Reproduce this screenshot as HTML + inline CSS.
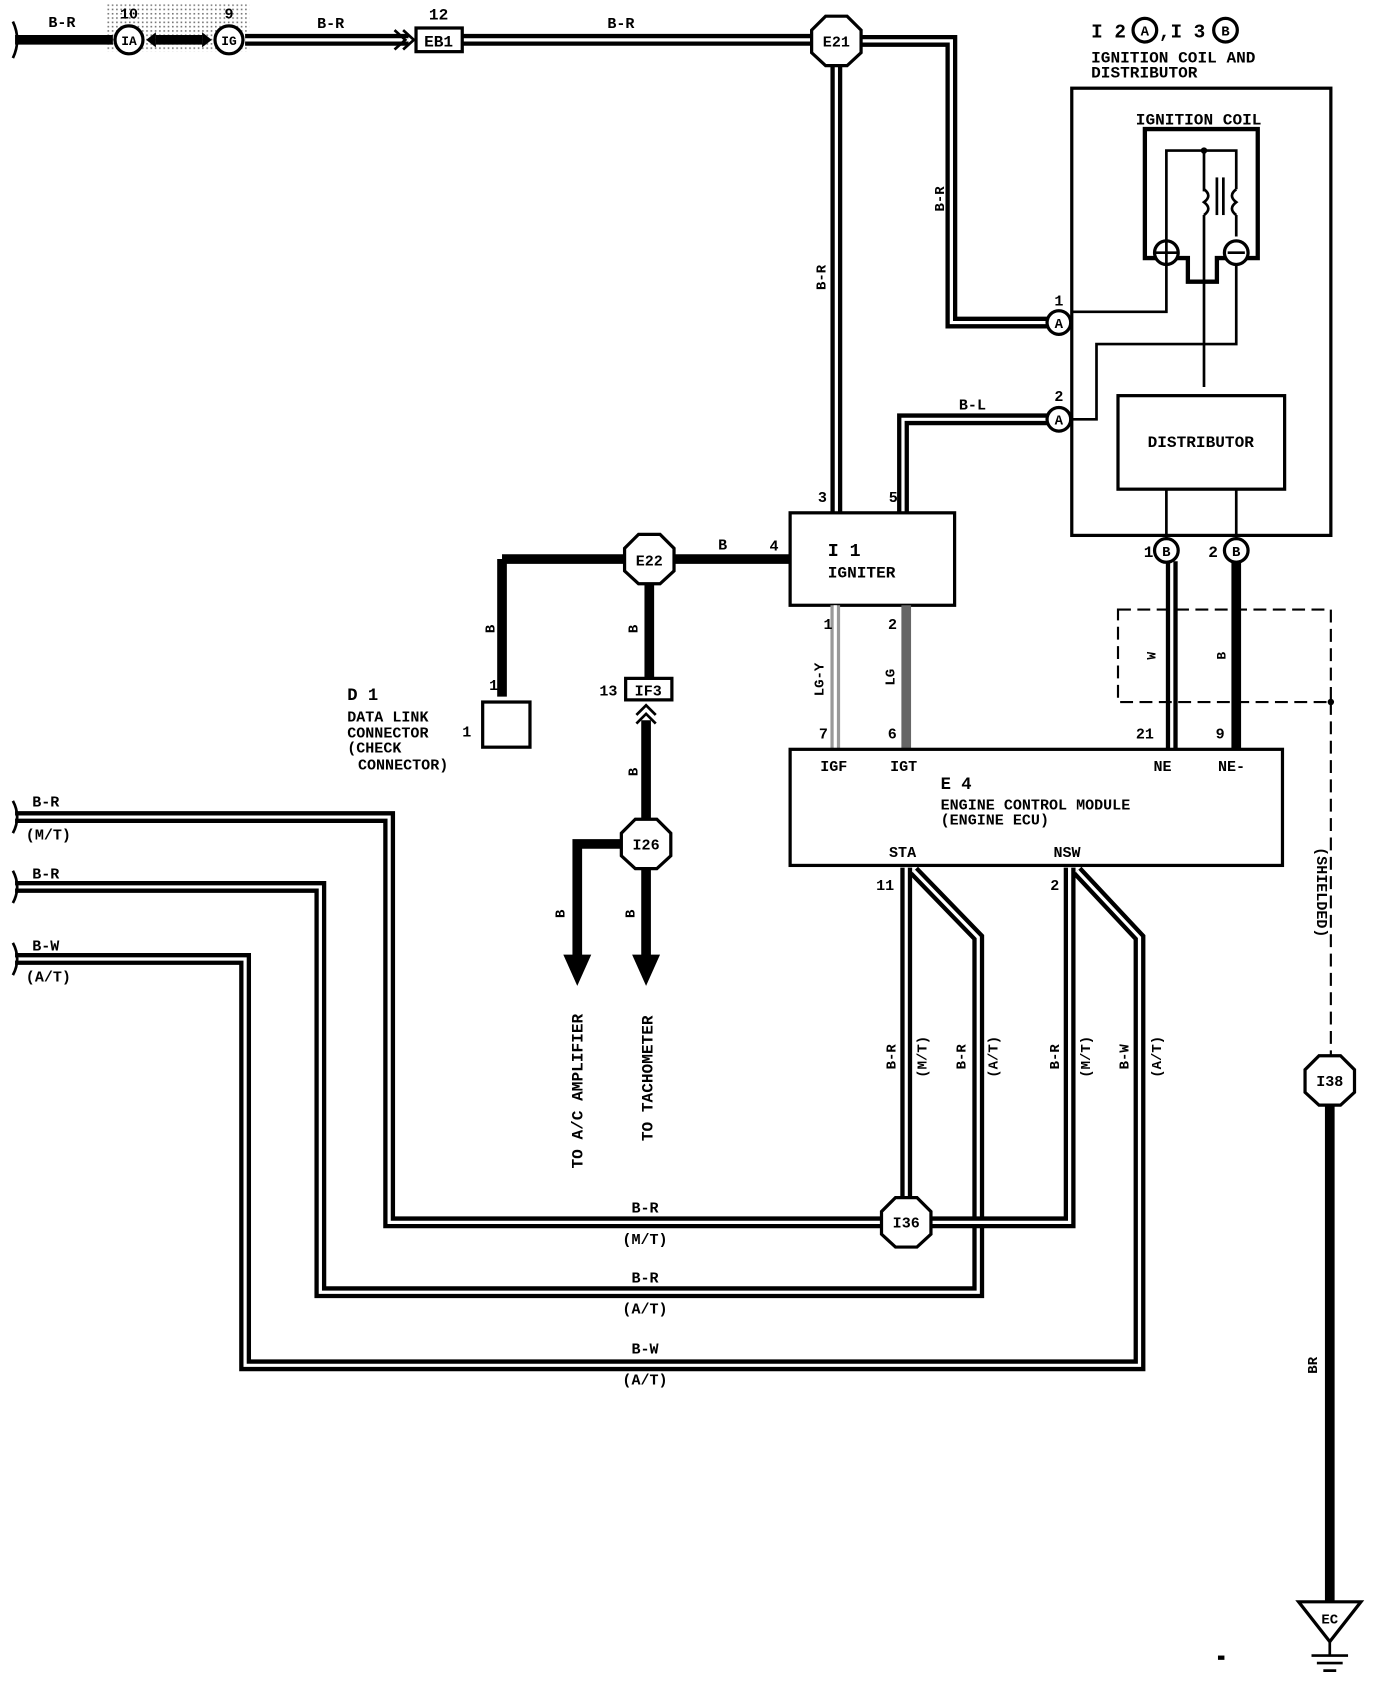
<!DOCTYPE html>
<html><head><meta charset="utf-8"><style>
html,body{margin:0;padding:0;background:#fff}
svg{display:block}
text{font-family:"Liberation Mono",monospace;font-weight:bold;fill:#000}
.w{fill:none;stroke:#000;stroke-width:11}
.wi{fill:none;stroke:#fff;stroke-width:3}
.t{fill:none;stroke:#000;stroke-width:9}
.l{fill:none;stroke:#000;stroke-width:2.5}
.b{fill:#fff;stroke:#000;stroke-width:3}
</style></head><body>
<svg width="1376" height="1690" viewBox="0 0 1280 1572" xmlns="http://www.w3.org/2000/svg">
<defs><pattern id="dots" width="4" height="4" patternUnits="userSpaceOnUse"><rect width="4" height="4" fill="#fff"/><rect width="1.5" height="1.5" fill="#777"/></pattern></defs>
<rect x="100" y="4" width="132" height="44" fill="url(#dots)"/>
<path d="M12 20 Q20 37 12 54" class="l" stroke-width="3"/>
<line x1="14" y1="37" x2="105" y2="37" class="t"/>
<circle cx="120" cy="37" r="13" class="b" stroke-width="5"/><text x="120" y="42" font-size="12" text-anchor="middle">IA</text>
<circle cx="213" cy="37" r="13" class="b" stroke-width="5"/><text x="213" y="42" font-size="12" text-anchor="middle">IG</text>
<line x1="145" y1="37" x2="188" y2="37" class="t" stroke-width="6"/>
<path d="M145 30 L136 37 145 44Z M188 30 L197 37 188 44Z"/>
<text x="45" y="25" font-size="14">B-R</text><text x="120" y="17" font-size="14" text-anchor="middle">10</text><text x="213" y="17" font-size="14" text-anchor="middle">9</text>
<path d="M228 37 H380 M430 37 H760" class="w" stroke-width="10"/><path d="M228 37 H380 M430 37 H760" class="wi"/>
<path d="M375 28 L385 37 375 46 M367 28 L377 37 367 46" class="l" stroke-width="3"/>
<rect x="387" y="26" width="43" height="22" class="b" stroke-width="4"/><text x="408" y="43" font-size="15" text-anchor="middle">EB1</text>
<text x="408" y="18" font-size="15" text-anchor="middle">12</text>
<text x="295" y="26" font-size="14">B-R</text><text x="565" y="26" font-size="14">B-R</text>
<path d="M798 38 H885 V300 H975" class="w"/><path d="M800 38 H885 V300 H975" class="wi" stroke-width="1.5"/>
<path d="M778 58 V477" class="w"/><path d="M778 58 V477" class="wi"/>
<text x="878" y="185" font-size="13" transform="rotate(-90 878 185)" text-anchor="middle">B-R</text>
<text x="768" y="258" font-size="13" transform="rotate(-90 768 258)" text-anchor="middle">B-R</text>
<path d="M975 390 H840 V477" class="w" stroke-width="9"/><path d="M975 390 H840 V477" class="wi" stroke-width="3"/>
<text x="892" y="381" font-size="14">B-L</text>
<text x="1015" y="35" font-size="18">I 2</text><circle cx="1065" cy="28" r="11" class="b" stroke-width="3"/><text x="1065" y="33" font-size="13" text-anchor="middle">A</text>
<text x="1078" y="35" font-size="18">,I 3</text><circle cx="1140" cy="28" r="11" class="b" stroke-width="3"/><text x="1140" y="33" font-size="13" text-anchor="middle">B</text>
<text x="1015" y="58" font-size="15">IGNITION COIL AND</text><text x="1015" y="72" font-size="15">DISTRIBUTOR</text>
<rect x="997" y="82" width="241" height="416" fill="none" stroke="#000" stroke-width="3"/>
<text x="1115" y="116" font-size="15" text-anchor="middle">IGNITION COIL</text>
<path d="M1065 120 H1170 V240 H1132 V262 H1105 V240 H1065Z" fill="none" stroke="#000" stroke-width="4"/>
<path d="M1085 290 V140 H1120 H1150 V176 M1120 140 V178 M1120 200 V360 M1150 200 V220 M1150 245 V320 H1020 V390 H997 M1085 250 V290 H997" class="l"/>
<circle cx="1120" cy="140" r="3"/>
<line x1="1132" y1="165" x2="1132" y2="200" class="l" stroke-width="2"/><line x1="1138" y1="165" x2="1138" y2="200" class="l" stroke-width="2"/>
<path d="M1120 176 q8 6 0 12 q8 6 0 12 M1150 176 q-8 6 0 12 q-8 6 0 12" class="l" stroke-width="2"/>
<circle cx="1085" cy="235" r="11" class="b"/><path d="M1074 235 H1096 M1085 224 V246" class="l" stroke-width="2"/>
<circle cx="1150" cy="235" r="11" class="b"/><path d="M1142 235 H1158" class="l" stroke-width="3"/>
<rect x="1040" y="368" width="155" height="87" fill="none" stroke="#000" stroke-width="3"/>
<text x="1117" y="416" font-size="15" text-anchor="middle">DISTRIBUTOR</text>
<path d="M1085 455 V500 M1150 455 V500" class="l"/>
<circle cx="985" cy="300" r="11" class="b"/><text x="985" y="305" font-size="13" text-anchor="middle">A</text><text x="985" y="284" font-size="14" text-anchor="middle">1</text>
<circle cx="985" cy="390" r="11" class="b"/><text x="985" y="395" font-size="13" text-anchor="middle">A</text><text x="985" y="373" font-size="14" text-anchor="middle">2</text>
<path d="M1090 522 V697" class="w" stroke-width="9"/><path d="M1090 522 V697" class="wi"/>
<line x1="1150" y1="522" x2="1150" y2="697" class="t" stroke-width="11"/>
<circle cx="1085" cy="512" r="11" class="b"/><text x="1085" y="517" font-size="13" text-anchor="middle">B</text><text x="1064" y="518" font-size="15">1</text>
<circle cx="1150" cy="512" r="11" class="b"/><text x="1150" y="517" font-size="13" text-anchor="middle">B</text><text x="1124" y="518" font-size="15">2</text>
<rect x="1040" y="567" width="198" height="86" fill="none" stroke="#000" stroke-width="2" stroke-dasharray="12 6"/>
<text x="1075" y="610" font-size="12" transform="rotate(-90 1075 610)" text-anchor="middle">W</text>
<text x="1140" y="610" font-size="12" transform="rotate(-90 1140 610)" text-anchor="middle">B</text>
<line x1="1238" y1="653" x2="1238" y2="982" stroke="#000" stroke-width="2" stroke-dasharray="12 6"/><circle cx="1238" cy="653" r="3"/>
<text x="1225" y="830" font-size="14" transform="rotate(90 1225 830)" text-anchor="middle">(SHIELDED)</text>
<polygon points="1227,982 1247,982 1260,995 1260,1016 1247,1028 1227,1028 1214,1016 1214,995" class="b"/>
<text x="1237" y="1010" font-size="14" text-anchor="middle">I38</text>
<line x1="1237" y1="1028" x2="1237" y2="1490" class="t" stroke-width="11"/>
<text x="1225" y="1270" font-size="13" transform="rotate(-90 1225 1270)" text-anchor="middle">BR</text>
<polygon points="1208,1490 1266,1490 1237,1527" class="b"/><text x="1237" y="1510" font-size="13" text-anchor="middle">EC</text>
<path d="M1237 1527 V1540 M1220 1540 H1254 M1225 1547 H1249 M1231 1554 H1243" class="l" stroke-width="2"/>
<rect x="1133" y="1540" width="6" height="4"/>
<rect x="735" y="477" width="153" height="86" fill="#fff" stroke="#000" stroke-width="3"/>
<text x="770" y="517" font-size="17">I 1</text><text x="770" y="537" font-size="15">IGNITER</text>
<text x="765" y="467" font-size="14" text-anchor="middle">3</text><text x="831" y="467" font-size="14" text-anchor="middle">5</text>
<text x="720" y="512" font-size="14" text-anchor="middle">4</text>
<line x1="467" y1="520" x2="735" y2="520" class="t" stroke-width="10"/>
<path d="M467 520 V648" class="t" stroke-width="10"/>
<text x="668" y="511" font-size="14">B</text>
<polygon points="594,497 614,497 627,510 627,531 614,543 594,543 581,531 581,510" class="b"/>
<text x="604" y="526" font-size="14" text-anchor="middle">E22</text>
<text x="460" y="585" font-size="13" transform="rotate(-90 460 585)" text-anchor="middle">B</text>
<rect x="449" y="653" width="44" height="42" class="b" stroke-width="2.5"/>
<text x="455" y="642" font-size="14">18</text><text x="430" y="685" font-size="14">1</text>
<text x="323" y="651" font-size="16">D 1</text>
<text x="323" y="671" font-size="14">DATA LINK</text><text x="323" y="686" font-size="14">CONNECTOR</text><text x="323" y="700" font-size="14">(CHECK</text><text x="333" y="716" font-size="14">CONNECTOR)</text>
<line x1="604" y1="543" x2="604" y2="631" class="t" stroke-width="10"/>
<text x="593" y="585" font-size="13" transform="rotate(-90 593 585)" text-anchor="middle">B</text>
<rect x="582" y="631" width="43" height="20" class="b" stroke-width="3"/><text x="603" y="647" font-size="14" text-anchor="middle">IF3</text>
<text x="566" y="647" font-size="14" text-anchor="middle">13</text>
<line x1="601" y1="670" x2="601" y2="762" class="t" stroke-width="10"/>
<path d="M592 665 L601 656 610 665 M592 673 L601 664 610 673" class="l" stroke-width="3"/>
<text x="593" y="718" font-size="13" transform="rotate(-90 593 718)" text-anchor="middle">B</text>
<polygon points="591,762 611,762 624,775 624,796 611,808 591,808 578,796 578,775" class="b"/>
<text x="601" y="790" font-size="14" text-anchor="middle">I26</text>
<path d="M578 785 H537 V895" class="t" stroke-width="10"/><path d="M601 808 V895" class="t" stroke-width="10"/>
<polygon points="524,888 550,888 537,917"/><polygon points="588,888 614,888 601,917"/>
<text x="525" y="850" font-size="13" transform="rotate(-90 525 850)" text-anchor="middle">B</text>
<text x="590" y="850" font-size="13" transform="rotate(-90 590 850)" text-anchor="middle">B</text>
<text x="542" y="1015" font-size="15" transform="rotate(-90 542 1015)" text-anchor="middle">TO A/C AMPLIFIER</text>
<text x="607" y="1003" font-size="15" transform="rotate(-90 607 1003)" text-anchor="middle">TO TACHOMETER</text>
<line x1="777" y1="563" x2="777" y2="697" stroke="#999" stroke-width="9"/><line x1="777" y1="563" x2="777" y2="697" stroke="#fff" stroke-width="3"/>
<line x1="843" y1="563" x2="843" y2="697" stroke="#666" stroke-width="9"/>
<text x="766" y="585" font-size="14">1</text><text x="826" y="585" font-size="14">2</text>
<text x="766" y="687" font-size="14" text-anchor="middle">7</text><text x="830" y="687" font-size="14" text-anchor="middle">6</text>
<text x="766" y="632" font-size="13" transform="rotate(-90 766 632)" text-anchor="middle">LG-Y</text>
<text x="832" y="630" font-size="13" transform="rotate(-90 832 630)" text-anchor="middle">LG</text>
<text x="1065" y="687" font-size="14" text-anchor="middle">21</text><text x="1135" y="687" font-size="14" text-anchor="middle">9</text>
<rect x="735" y="697" width="458" height="108" fill="#fff" stroke="#000" stroke-width="3"/>
<text x="763" y="717" font-size="14">IGF</text><text x="828" y="717" font-size="14">IGT</text>
<text x="1073" y="717" font-size="14">NE</text><text x="1133" y="717" font-size="14">NE-</text>
<text x="875" y="734" font-size="16">E 4</text>
<text x="875" y="753" font-size="14">ENGINE CONTROL MODULE</text><text x="875" y="767" font-size="14">(ENGINE ECU)</text>
<text x="827" y="797" font-size="14">STA</text><text x="980" y="797" font-size="14">NSW</text>
<text x="815" y="828" font-size="14">11</text><text x="977" y="828" font-size="14">2</text>
<g>
<path d="M14 760 H362 V1137 H820" class="w"/><path d="M14 760 H362 V1137 H820" class="wi"/>
<path d="M14 825 H298 V1202 H910 V872 L850 810" class="w"/><path d="M14 825 H298 V1202 H910 V872 L850 810" class="wi"/>
<path d="M14 892 H228 V1270 H1060 V872 L1002 810" class="w"/><path d="M14 892 H228 V1270 H1060 V872 L1002 810" class="wi"/>
<path d="M843 807 V1114" class="w"/><path d="M843 807 V1114" class="wi"/>
<path d="M866 1137 H995 V807" class="w"/><path d="M866 1137 H995 V807" class="wi"/>
</g>
<polygon points="833,1114 853,1114 866,1127 866,1148 853,1160 833,1160 820,1148 820,1127" class="b"/>
<text x="843" y="1142" font-size="14" text-anchor="middle">I36</text>
<path d="M12 745 Q20 760 12 775 M12 810 Q20 825 12 840 M12 877 Q20 892 12 907" class="l" stroke-width="3"/>
<text x="30" y="750" font-size="14">B-R</text><text x="24" y="781" font-size="14">(M/T)</text>
<text x="30" y="817" font-size="14">B-R</text>
<text x="30" y="884" font-size="14">B-W</text><text x="24" y="913" font-size="14">(A/T)</text>
<text x="600" y="1128" font-size="14" text-anchor="middle">B-R</text><text x="600" y="1157" font-size="14" text-anchor="middle">(M/T)</text>
<text x="600" y="1193" font-size="14" text-anchor="middle">B-R</text><text x="600" y="1222" font-size="14" text-anchor="middle">(A/T)</text>
<text x="600" y="1259" font-size="14" text-anchor="middle">B-W</text><text x="600" y="1288" font-size="14" text-anchor="middle">(A/T)</text>
<text x="833" y="983" font-size="13" transform="rotate(-90 833 983)" text-anchor="middle">B-R</text>
<text x="862" y="983" font-size="13" transform="rotate(-90 862 983)" text-anchor="middle">(M/T)</text>
<text x="898" y="983" font-size="13" transform="rotate(-90 898 983)" text-anchor="middle">B-R</text>
<text x="928" y="983" font-size="13" transform="rotate(-90 928 983)" text-anchor="middle">(A/T)</text>
<text x="985" y="983" font-size="13" transform="rotate(-90 985 983)" text-anchor="middle">B-R</text>
<text x="1014" y="983" font-size="13" transform="rotate(-90 1014 983)" text-anchor="middle">(M/T)</text>
<text x="1050" y="983" font-size="13" transform="rotate(-90 1050 983)" text-anchor="middle">B-W</text>
<text x="1080" y="983" font-size="13" transform="rotate(-90 1080 983)" text-anchor="middle">(A/T)</text>
<polygon points="768,15 788,15 801,28 801,49 788,61 768,61 755,49 755,28" class="b"/>
<text x="778" y="43" font-size="14" text-anchor="middle">E21</text>
</svg>
</body></html>
